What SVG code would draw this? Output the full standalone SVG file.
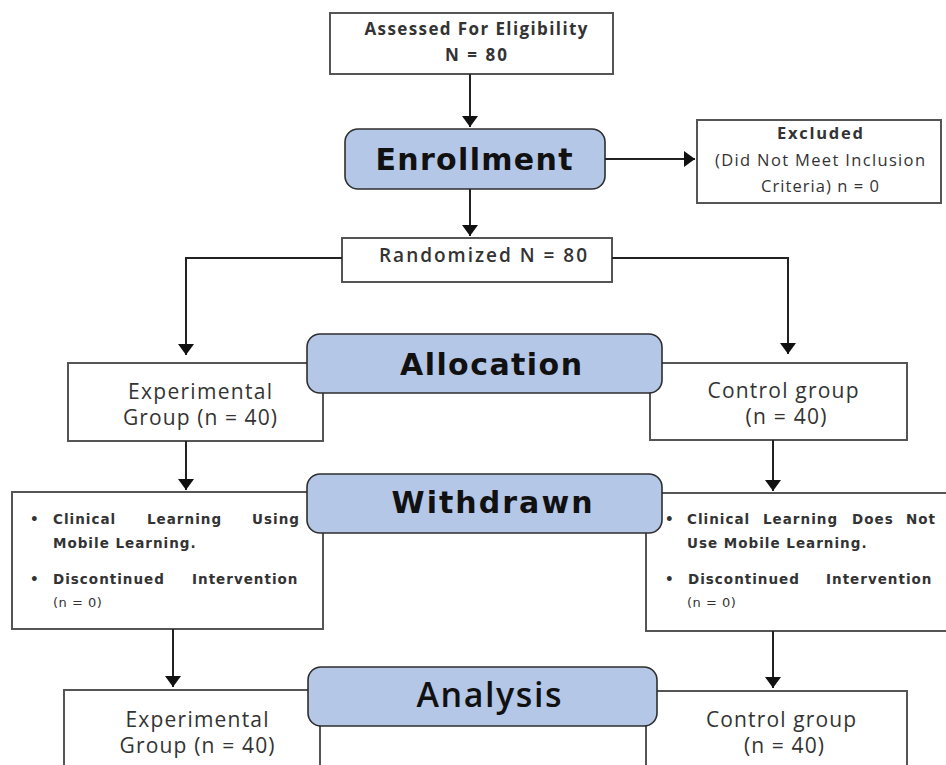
<svg xmlns="http://www.w3.org/2000/svg" width="946" height="765" viewBox="0 0 946 765">
<style>
.box{fill:#fff;stroke:#555;stroke-width:2}
.phase{fill:#b4c7e7;stroke:#2e2e2e;stroke-width:1.6}
.ph{font-family:"DejaVu Sans",sans-serif;font-weight:bold;font-size:30px;fill:#111;text-anchor:middle}
.t{font-family:"Open Sans","Liberation Sans",sans-serif;font-size:21px;fill:#333;text-anchor:middle}
.tb{font-family:"Open Sans","Liberation Sans",sans-serif;font-weight:bold;font-size:17px;fill:#333;text-anchor:middle}
.ts{font-family:"Open Sans","Liberation Sans",sans-serif;font-size:16.5px;fill:#333;text-anchor:middle}
.bl{font-family:"DejaVu Sans",sans-serif;font-weight:bold;font-size:13.5px;fill:#333;letter-spacing:1px}
.sm{font-family:"DejaVu Sans",sans-serif;font-size:13px;fill:#333;letter-spacing:0.5px}
.ca{fill:none;stroke:#222;stroke-width:2;marker-end:url(#ah)}
</style>
<defs>
<marker id="ah" markerUnits="userSpaceOnUse" markerWidth="12" markerHeight="16" refX="11" refY="8" orient="auto">
<path d="M0,0 L11,8 L0,16 z" fill="#111"/>
</marker>
</defs>

<g id="assessed">
<rect class="box" x="330" y="13" width="283" height="61"/>
<text class="tb" x="476" y="35" textLength="223">Assessed For Eligibility</text>
<text class="tb" x="476" y="61" textLength="62">N = 80</text>
</g>

<g id="excluded">
<rect class="box" x="697" y="120" width="244" height="83"/>
<text class="ts" x="820" y="139" font-weight="bold" textLength="86">Excluded</text>
<text class="ts" x="820" y="166" textLength="210">(Did Not Meet Inclusion</text>
<text class="ts" x="820" y="192" textLength="118">Criteria) n = 0</text>
</g>

<g id="randomized">
<rect class="box" x="342" y="238" width="270" height="44"/>
<text class="tb" x="483" y="262" style="font-size:19px;font-weight:600" textLength="208">Randomized N = 80</text>
</g>

<g id="exp-alloc">
<rect class="box" x="68" y="363" width="255" height="78"/>
<text class="t" x="200" y="399" textLength="144">Experimental</text>
<text class="t" x="200" y="425" textLength="154">Group (n = 40)</text>
</g>

<g id="ctrl-alloc">
<rect class="box" x="650" y="363" width="257" height="77"/>
<text class="t" x="783" y="398" textLength="151">Control group</text>
<text class="t" x="786" y="424" textLength="81">(n = 40)</text>
</g>

<g id="exp-withdrawn">
<rect class="box" x="12" y="492" width="311" height="137"/>
<text class="bl" x="30" y="524">•</text>
<text class="bl" y="524"><tspan x="53">Clinical</tspan><tspan x="147">Learning</tspan><tspan x="252">Using</tspan></text>
<text class="bl" x="53" y="548">Mobile Learning.</text>
<text class="bl" x="30" y="584">•</text>
<text class="bl" y="584"><tspan x="53">Discontinued</tspan><tspan x="192">Intervention</tspan></text>
<text class="sm" x="53" y="607">(n = 0)</text>
</g>

<g id="ctrl-withdrawn">
<rect class="box" x="646" y="493" width="310" height="138"/>
<text class="bl" x="665" y="524">•</text>
<text class="bl" y="524"><tspan x="687">Clinical</tspan><tspan x="763">Learning</tspan><tspan x="852">Does</tspan><tspan x="906">Not</tspan></text>
<text class="bl" x="687" y="548">Use Mobile Learning.</text>
<text class="bl" x="665" y="584">•</text>
<text class="bl" y="584"><tspan x="688">Discontinued</tspan><tspan x="826">Intervention</tspan></text>
<text class="sm" x="687" y="607">(n = 0)</text>
</g>

<g id="exp-analysis">
<rect class="box" x="64" y="690" width="256" height="90"/>
<text class="t" x="197" y="727" textLength="143">Experimental</text>
<text class="t" x="197" y="753" textLength="155">Group (n = 40)</text>
</g>

<g id="ctrl-analysis">
<rect class="box" x="646" y="691" width="261" height="90"/>
<text class="t" x="781" y="727" textLength="150">Control group</text>
<text class="t" x="784" y="753" textLength="80">(n = 40)</text>
</g>

<g id="enrollment">
<rect class="phase" x="345" y="129" width="260" height="60" rx="13"/>
<text class="ph" x="474" y="170" textLength="197">Enrollment</text>
</g>

<g id="allocation">
<rect class="phase" x="307" y="334" width="355" height="59" rx="13"/>
<text class="ph" x="491" y="375" textLength="182">Allocation</text>
</g>

<g id="withdrawn">
<rect class="phase" x="307" y="474" width="355" height="59" rx="13"/>
<text class="ph" x="492" y="513" textLength="201">Withdrawn</text>
</g>

<g id="analysis">
<rect class="phase" x="308" y="667" width="349" height="59" rx="13"/>
<text x="489" y="707" font-family="'Open Sans','Liberation Sans',sans-serif" font-weight="600" font-size="34" fill="#111" text-anchor="middle" textLength="145">Analysis</text>
</g>

<g id="connectors">
<line class="ca" x1="470" y1="74" x2="470" y2="127"/>
<line class="ca" x1="605" y1="159" x2="695" y2="159"/>
<line class="ca" x1="470" y1="189" x2="470" y2="236"/>
<path class="ca" d="M342,258 H186 V355"/>
<path class="ca" d="M612,258 H788 V354"/>
<line class="ca" x1="186" y1="441" x2="186" y2="490"/>
<line class="ca" x1="773" y1="440" x2="773" y2="491"/>
<line class="ca" x1="173" y1="629" x2="173" y2="687"/>
<line class="ca" x1="773" y1="631" x2="773" y2="688"/>
</g>
</svg>
